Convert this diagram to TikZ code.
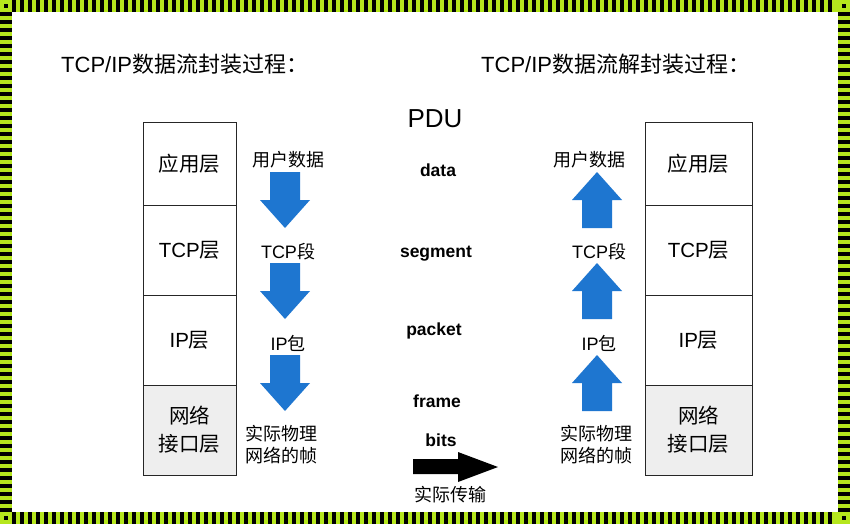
\documentclass[tikz,border=0pt]{standalone}
\usepackage{fontspec}
\setmainfont{Liberation Sans}
\newfontfamily\cjk{Noto Sans CJK SC}
\usetikzlibrary{positioning}
\definecolor{rahmengruen}{RGB}{181,230,29}
\definecolor{pfeilblau}{RGB}{30,118,208}
\definecolor{zellgrau}{RGB}{238,238,238}

\begin{document}
\begin{tikzpicture}[x=1pt, y=-1pt]
  \useasboundingbox (0,0) rectangle (850,524);

  % Rahmen
  \fill[rahmengruen] (0,0) rectangle (850,524);
  \fill[white] (12,12) rectangle (838,512);
  \foreach \x in {12,20,...,828} {
    \fill (\x,0) rectangle (\x+4,12);
    \fill (\x,512) rectangle (\x+4,524);
  }
  \foreach \y in {12,20,...,508} {
    \fill (0,\y) rectangle (12,\y+4);
    \fill (838,\y) rectangle (850,\y+4);
  }
  \fill (4,4) rectangle (8,8);
  \fill (842,4) rectangle (846,8);
  \fill (4,516) rectangle (8,520);
  \fill (842,516) rectangle (846,520);

  \tikzstyle{schicht}=[draw=black!85, line width=1pt, outer sep=0pt, minimum height=90, align=center, font=\fontsize{20.5}{28}\selectfont]
  \tikzstyle{netz}=[fill=zellgrau]
  \tikzstyle{beschr}=[inner sep=0pt, align=center, font=\fontsize{18}{22}\selectfont]
  \tikzstyle{einheit}=[inner sep=0pt, font=\bfseries\fontsize{17.5}{20}\selectfont]
  \tikzstyle{titel}=[anchor=west, inner sep=0pt, font=\fontsize{22}{26}\selectfont]
  \tikzstyle{blau}=[fill=pfeilblau]

  % Titel
  \node[titel] (tenc) at (61,64) {TCP/IP\cjk 数据流封装过程：};
  \node[titel] (tdec) at (481,64) {TCP/IP\cjk 数据流解封装过程：};

  % Schichten links
  \node[schicht, minimum width=93, minimum height=83] (lanw) at (189.5,163.5) {\cjk 应用层};
  \node[schicht, minimum width=93, below=0pt of lanw] (ltcp) {TCP\cjk 层};
  \node[schicht, minimum width=93, below=0pt of ltcp] (lip) {IP\cjk 层};
  \node[schicht, netz, minimum width=93, below=0pt of lip] (lnetz) {\cjk 网络\\\cjk 接口层};

  % Schichten rechts
  \node[schicht, minimum width=107, minimum height=83] (ranw) at (698.5,163.5) {\cjk 应用层};
  \node[schicht, minimum width=107, below=0pt of ranw] (rtcp) {TCP\cjk 层};
  \node[schicht, minimum width=107, below=0pt of rtcp] (rip) {IP\cjk 层};
  \node[schicht, netz, minimum width=107, below=0pt of rip] (rnetz) {\cjk 网络\\\cjk 接口层};

  % Kapselung
  \node[beschr] (lud) at (288,160) {\cjk 用户数据};
  \node[beschr] (lseg) at (288,252) {TCP\cjk 段};
  \node[beschr] (lpak) at (288,343) {IP\cjk 包};
  \node[beschr] (lfr) at (281,445) {\cjk 实际物理\\\cjk 网络的帧};
  \fill[blau] (270,172) -- (300,172) -- (300,200) -- (310,200) -- (285,228) -- (260,200) -- (270,200) -- cycle;
  \fill[blau] (270,263) -- (300,263) -- (300,291) -- (310,291) -- (285,319) -- (260,291) -- (270,291) -- cycle;
  \fill[blau] (270,355) -- (300,355) -- (300,383) -- (310,383) -- (285,411) -- (260,383) -- (270,383) -- cycle;

  % Entkapselung
  \node[beschr] (rud) at (589,160) {\cjk 用户数据};
  \node[beschr] (rseg) at (599,252) {TCP\cjk 段};
  \node[beschr] (rpak) at (599,343) {IP\cjk 包};
  \node[beschr] (rfr) at (596,445) {\cjk 实际物理\\\cjk 网络的帧};
  \fill[blau] (597,172) -- (622,200) -- (612,200) -- (612,228) -- (582,228) -- (582,200) -- (572,200) -- cycle;
  \fill[blau] (597,263) -- (622,291) -- (612,291) -- (612,319) -- (582,319) -- (582,291) -- (572,291) -- cycle;
  \fill[blau] (597,355) -- (622,383) -- (612,383) -- (612,411) -- (582,411) -- (582,383) -- (572,383) -- cycle;

  % PDU
  \node[inner sep=0pt, font=\fontsize{26}{30}\selectfont] (pdu) at (435,119) {PDU};
  \node[einheit] (data) at (438,170) {data};
  \node[einheit] (seg) at (436,254) {segment};
  \node[einheit] (pak) at (434,331) {packet};
  \node[einheit] (frame) at (437,401) {frame};
  \node[einheit] (bits) at (441,440) {bits};
  \fill (413,459) -- (458,459) -- (458,452) -- (498,467) -- (458,482) -- (458,474) -- (413,474) -- cycle;
  \node[beschr] (trans) at (450,495) {\cjk 实际传输};
\end{tikzpicture}
\end{document}
